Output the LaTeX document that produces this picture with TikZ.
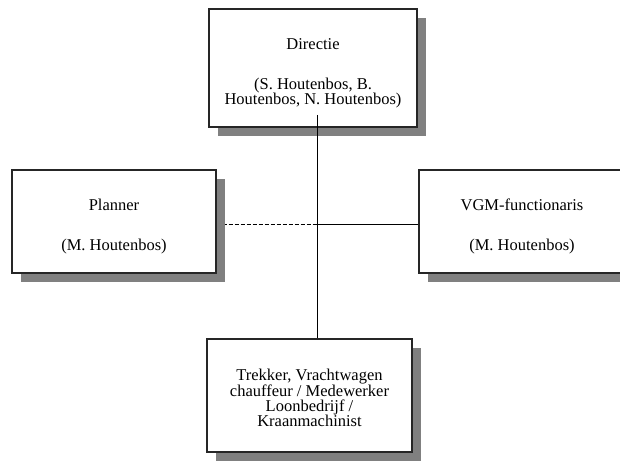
\documentclass[tikz,border=0pt]{standalone}
\usepackage{fontspec}
\setmainfont{Liberation Serif}
\usepackage{tikz}
\usetikzlibrary{positioning, shadows, backgrounds, calc}

\begin{document}
\begin{tikzpicture}[x=1pt, y=-1pt,
    orgbox/.style={draw=black!85, line width=1.2pt, fill=white, rectangle,
        drop shadow={shadow xshift=9pt, shadow yshift=-9pt, fill=black!50, opacity=1}},
    boxtext/.style={align=center, font=\fontsize{16.5}{15}\selectfont, inner sep=0pt}]
    \useasboundingbox (0,0) rectangle (620,465);

    % Nodes
    \node (dir) [orgbox, minimum width=208pt, minimum height=118pt] at (313,68) {};
    \node (plan) [orgbox, minimum width=204pt, minimum height=103pt] at (114,221.5) {};
    \node (vgm) [orgbox, minimum width=206pt, minimum height=103pt] at (522,221.5) {};
    \node (crew) [orgbox, minimum width=205pt, minimum height=113pt] at (309.5,395.5) {};

    % Texts
    \node (dirtxt) [boxtext] at ([yshift=-5.5pt]dir.center) {Directie\\[25pt](S. Houtenbos, B.\\Houtenbos, N. Houtenbos)};
    \node (plantxt) [boxtext] at ([yshift=-5pt]plan.center) {Planner\\[25pt](M. Houtenbos)};
    \node (vgmtxt) [boxtext] at ([yshift=-5pt]vgm.center) {VGM-functionaris\\[25pt](M. Houtenbos)};
    \node (crewtxt) [boxtext] at ([yshift=-2pt]crew.center) {Trekker, Vrachtwagen\\chauffeur / Medewerker\\Loonbedrijf /\\Kraanmachinist};

    % Lines
    \coordinate (stem) at (317,115);
    \coordinate (jn) at (317,224);
    \draw[line width=0.9pt] (stem) -- (stem |- crew.north);
    \begin{pgfonlayer}{background}
        \draw[line width=0.9pt, dash pattern=on 4pt off 2pt] (plan.east |- jn) -- (jn);
    \end{pgfonlayer}
    \draw[line width=0.9pt] (jn) -- (vgm.west |- jn);
\end{tikzpicture}
\end{document}
